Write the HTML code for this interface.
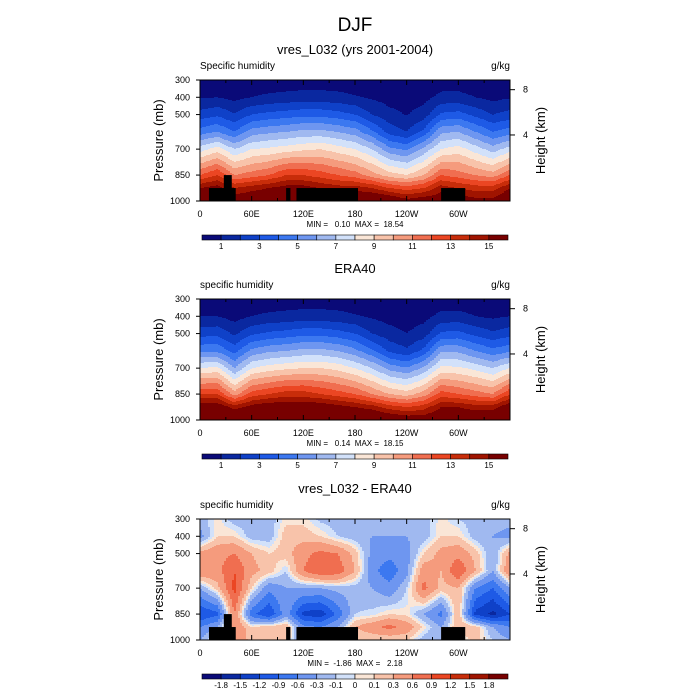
<!DOCTYPE html>
<html><head><meta charset="utf-8"><style>
body{margin:0;background:#fff;}
svg{display:block;font-family:"Liberation Sans",sans-serif;}
text{white-space:pre;}
</style></head><body>
<svg id="fig" width="700" height="700" viewBox="0 0 700 700">
<text x="355" y="31" font-size="19" text-anchor="middle">DJF</text>
</svg>
<script>
// ---- data ----
const lons = [0,20,40,60,80,100,120,140,160,180,200,220,240,260,280,300,320,340,360];
const levels = [300,400,500,600,700,850,925,1000];
const modelQ = [
[0.25,0.9,2.4,4.5,7.5,12,15,16.5],
[0.3,1.0,2.8,5,8.5,13,15.5,16.5],
[0.25,0.7,2.1,4,7,11,14,16],
[0.3,1.0,3.0,5.5,8,11.5,14.5,16.5],
[0.35,1.2,3.3,5.8,8.2,12,15,17],
[0.4,1.3,3.5,6,8.5,13,15.5,17],
[0.45,1.4,3.7,6.3,8.8,13,15.5,17],
[0.45,1.4,3.7,6.3,9,12.5,15,17],
[0.4,1.3,3.4,6,8.5,12,14.5,17],
[0.35,1.1,3.0,5.5,8,11.5,14.5,17],
[0.25,0.85,2.0,4.2,7,10.5,14,17],
[0.2,0.6,1.3,2.6,5.3,9.5,13,16.5],
[0.15,0.5,0.95,2.0,4.8,9,12.5,15.5],
[0.2,0.65,1.5,3.3,6.3,10,13,16],
[0.4,1.3,3.2,5.8,8,12,14.5,16],
[0.45,1.3,3.4,6,8.5,11.5,14,16],
[0.3,1.0,2.7,5,7.5,11,13.5,15.5],
[0.2,0.7,2.0,4,6.5,10.5,13.5,15.5],
[0.25,0.9,2.4,4.5,7.5,12,15,16.5]];
const eraQ = [
[0.3,1.0,2.6,4.8,8,13,16,17],
[0.3,1.0,2.7,4.8,8.3,13,16,17],
[0.2,0.6,1.8,3.6,6,10.5,14.5,17],
[0.3,1.0,2.8,5.3,8,12.5,15.5,17],
[0.35,1.2,3.2,5.8,8.5,13,16,17.5],
[0.4,1.3,3.4,6,8.8,13.5,16,17.5],
[0.45,1.4,3.7,6.3,9,13.5,16,17.5],
[0.45,1.4,3.7,6.3,9,13,16,17.5],
[0.4,1.3,3.4,6,8.7,12.5,15.5,17.5],
[0.35,1.1,3.0,5.3,8,12,15,17],
[0.25,0.85,2.0,4.2,7,11,14.5,17],
[0.2,0.6,1.4,2.8,5.6,10,13.5,16.5],
[0.15,0.5,1.0,2.2,5.1,9.5,13,16],
[0.2,0.65,1.5,3.3,6.2,10.5,13.5,16],
[0.4,1.3,3.2,5.8,8.3,12.5,15,16.5],
[0.4,1.3,3.3,5.8,8.2,12,15,16.5],
[0.3,1.0,2.7,5,7.7,11.5,14.5,16.5],
[0.25,0.8,2.2,4.3,7,11,14.5,16.5],
[0.3,1.0,2.6,4.8,8,13,16,17]];
const diffQ = [
[-0.2,-0.4,0.4,0.6,-0.3,-1.2,-0.6,-0.3],
[0.05,0.1,0.5,0.5,0.2,-1.0,-0.3,0.2],
[-0.2,0.1,0.6,0.9,1.0,0.6,0.6,0.6],
[-0.2,-0.2,0.3,0.4,0.1,-0.8,0.1,0.2],
[-0.2,-0.2,0.1,0.2,-0.5,-1.2,0.2,0.3],
[0.05,0.2,0.2,-0.1,-0.3,-0.4,0.3,0.1],
[0.05,0.2,0.5,0.6,-0.3,-1.3,-0.5,-0.3],
[-0.15,0.1,0.7,0.9,-0.3,-1.4,-0.6,-0.3],
[-0.2,-0.1,0.6,0.8,-0.2,-0.8,-0.3,0],
[-0.2,-0.2,0.2,0.3,-0.2,-0.1,0.3,0.1],
[-0.3,-0.3,-0.4,-0.5,-0.3,-0.05,0.5,0.1],
[-0.2,-0.3,-0.5,-0.8,-0.5,0.1,0.7,0.1],
[-0.2,-0.3,-0.4,-0.4,-0.1,0.05,0.5,0.1],
[-0.2,-0.2,0.1,0.5,0.7,-0.3,0.05,-0.2],
[0.05,0.1,0.4,0.3,0.2,-0.7,-0.3,-0.3],
[-0.1,0.1,0.5,0.9,0.3,0.3,0.3,-0.1],
[-0.2,-0.2,0.2,0.3,-0.6,-1.3,0.2,0.2],
[-0.2,-0.3,-0.3,-0.3,-0.9,-1.6,-0.3,-0.1],
[-0.2,-0.4,0.4,0.6,-0.3,-1.2,-0.6,-0.3]];
const qLevels = [1,2,3,4,5,6,7,8,9,10,11,12,13,14,15];
const qLabels = ["1","3","5","7","9","11","13","15"];
const dLevels = [-1.8,-1.5,-1.2,-0.9,-0.6,-0.3,-0.1,0,0.1,0.3,0.6,0.9,1.2,1.5,1.8];
const dLabels = ["-1.8","-1.5","-1.2","-0.9","-0.6","-0.3","-0.1","0","0.1","0.3","0.6","0.9","1.2","1.5","1.8"];
// terrain blocks: [lonStart, lonEnd, topPressure]
const terrainLon0 = [10.4,27.7,100,112,280];
const terrainLon1 = [41.5,36.9,105,183.5,308];
const terrainTop = [925,850,925,925,925];
const xTickVals = [0,60,120,180,240,300];
const xTickLabels = ["0","60E","120E","180","120W","60W"];
const pTicks = [300,400,500,700,850,1000];
const hTickP = [356,618];
const hTickLabels = ["8","4"];
const colors = ['#0a0a78','#0a28a0','#0f41c8','#1e5ae6','#3c78f0','#6e96f0','#a0b9f0','#d2e1fa','#fae6d7','#f8c3aa','#f59b7d','#f06e50','#eb4623','#c82d0a','#a01400','#780000'];

const NS='http://www.w3.org/2000/svg';
const svg=document.getElementById('fig');
function mk(tag,attrs,parent){const e=document.createElementNS(NS,tag);for(const k in attrs)e.setAttribute(k,attrs[k]);(parent||svg).appendChild(e);return e;}
const L=200,W=310,H=121;
const xS=lon=>L+lon/360*W;
function yS(top){return p=>top+(p-300)/700*H;}
function interp(grid,lon,p){
  let i=Math.min(Math.floor(lon/20),lons.length-2);const tx=(lon-lons[i])/20;
  let j=0;while(j<levels.length-2&&p>levels[j+1])j++;
  const ty=(p-levels[j])/(levels[j+1]-levels[j]);
  const a=grid[i][j]*(1-ty)+grid[i][j+1]*ty, b=grid[i+1][j]*(1-ty)+grid[i+1][j+1]*ty;
  return a*(1-tx)+b*tx;
}
function cls(v,lv){let k=0;while(k<lv.length&&v>=lv[k])k++;return k;}

function panel(top,grid,lv,labels,title,sub,minmax,terrain){
  const g=mk('g',{});
  
  
  const y=yS(top);
  const t=mk('text',{x:355,y:top-26,'font-size':13,'text-anchor':'middle'},g);t.textContent=title;
  
  const s=mk('text',{x:200,y:top-11,'font-size':10},g);s.textContent=sub;
  
  const u=mk('text',{x:510,y:top-11,'font-size':10,'text-anchor':'end'},g);u.textContent='g/kg';
  
  const field=mk('g',{},g);
  
  const dx=2;
  for(let px=0;px<W;px+=dx){
    const lon=(px+dx/2)/W*360;let start=0,prev=-1;
    for(let py=0;py<=H;py++){
      const c=py<H?cls(interp(grid,lon,300+(py+0.5)/H*700),lv):-2;
      if(c!==prev){
        if(prev>=0){const r=mk('rect',{x:L+px,y:top+start,width:dx+0.4,height:py-start+0.4,fill:colors[prev]},field);
          }
        start=py;prev=c;}
    }
  }
  if(terrain){for(let k=0;k<terrainLon0.length;k++){
    const r=mk('rect',{x:xS(terrainLon0[k]),y:y(terrainTop[k]),width:xS(terrainLon1[k])-xS(terrainLon0[k]),height:y(1000)-y(terrainTop[k]),fill:'#000'},g);
    }}
  const fr=mk('rect',{x:L,y:top,width:W,height:H,fill:'none',stroke:'#000','stroke-width':1},g);
  
  for(let lon=0;lon<=360;lon+=30){const major=lon%60===0;const len=major?5:3;
    mk('line',{x1:xS(lon),x2:xS(lon),y1:top+H,y2:top+H-len,stroke:'#000'},g);
    mk('line',{x1:xS(lon),x2:xS(lon),y1:top,y2:top+len,stroke:'#000'},g);}
  xTickVals.forEach((v,i)=>{const tt=mk('text',{x:xS(v),y:top+H+16,'font-size':9,'text-anchor':'middle'},g);tt.textContent=xTickLabels[i];
    });
  pTicks.forEach(p=>{mk('line',{x1:L-4,x2:L,y1:y(p),y2:y(p),stroke:'#000'},g);
    const tt=mk('text',{x:L-10,y:y(p)+3,'font-size':9,'text-anchor':'end'},g);tt.textContent=p;
    });
  hTickP.forEach((p,i)=>{mk('line',{x1:L+W,x2:L+W+5,y1:y(p),y2:y(p),stroke:'#000'},g);
    const tt=mk('text',{x:L+W+13,y:y(p)+3,'font-size':9},g);tt.textContent=hTickLabels[i];
    });
  const ya=mk('text',{transform:`translate(163,${top+H/2}) rotate(-90)`,'font-size':13,'text-anchor':'middle'},g);ya.textContent='Pressure (mb)';
  
  const ha=mk('text',{transform:`translate(545,${top+H/2}) rotate(-90)`,'font-size':13,'text-anchor':'middle'},g);ha.textContent='Height (km)';
  
  const mm=mk('text',{x:355,y:top+H+26,'font-size':8,'text-anchor':'middle'},g);mm.textContent=minmax;
  
  // colorbar
  const cb=mk('g',{},g);
  const cy=top+H+34,cx=202,cw=306/16;
  colors.forEach((c,i)=>{const r=mk('rect',{x:cx+i*cw,y:cy,width:cw,height:5,fill:c,stroke:'#000','stroke-width':0.6},cb);
    });
  const step=labels.length===lv.length?1:2;
  labels.forEach((lab,i)=>{const k=i*step;const tt=mk('text',{x:cx+(k+1)*cw,y:cy+14,'font-size':8,'text-anchor':'middle'},cb);tt.textContent=lab;
    });
}
panel(80,modelQ,qLevels,qLabels,'vres_L032 (yrs 2001-2004)','Specific humidity','MIN =   0.10  MAX =  18.54',true);
panel(299,eraQ,qLevels,qLabels,'ERA40','specific humidity','MIN =   0.14  MAX =  18.15',false);
panel(519,diffQ,dLevels,dLabels,'vres_L032 - ERA40','specific humidity','MIN =  -1.86  MAX =   2.18',true);
</script>
</body></html>
